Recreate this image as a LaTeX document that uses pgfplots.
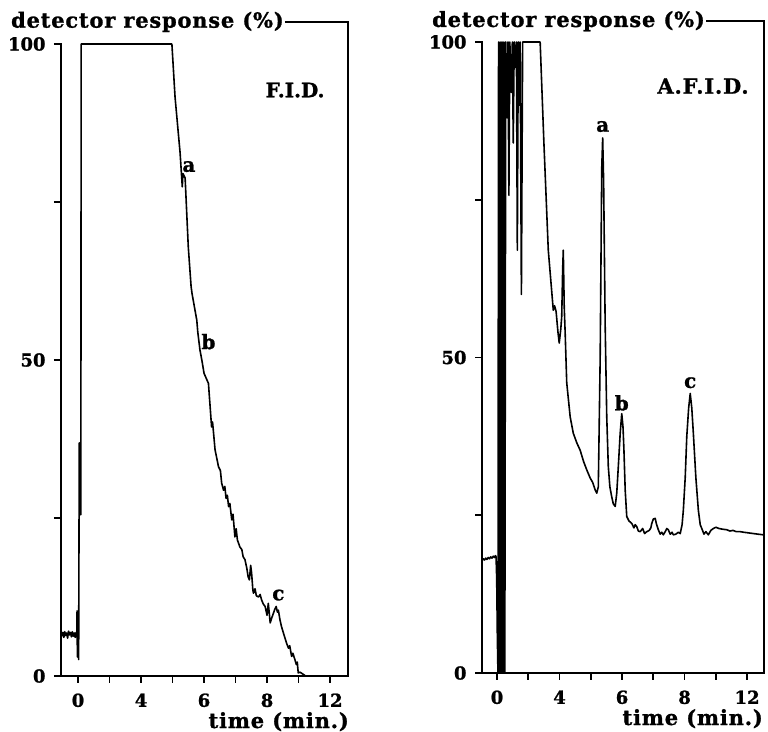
\documentclass[border=0pt]{standalone}
\usepackage{fontspec}
\setmainfont{DejaVu Serif}[BoldFeatures={FakeBold=1.2}]
\usepackage{pgfplots}
\pgfplotsset{compat=1.18}

% common look of both chromatogram panels
\pgfplotsset{
  chrom/.style={
    scale only axis,
    ymin=0, ymax=100,
    axis x line=bottom, axis y line=left,
    axis line style={draw=none},
    tick align=outside,
    major tick length=7bp,
    major tick style={black, line width=1.8bp},
    xtick={0,...,8},
    xticklabels={0,,4,,6,,8,,12},
    ytick={0,25,50,75,100},
    yticklabels={0,,50,,100},
    ticklabel style={font=\bfseries\fontsize{18}{18}\selectfont},
    xticklabel style={yshift=-7bp},
    yticklabel style={xshift=-5bp},
    /pgf/number format/assume math mode=true,
    clip=false,
  },
  trace/.style={black, line width=1.6bp, line join=round, no marks},
}
\tikzset{
  lbl/.style={font=\bfseries\fontsize{21}{21}\selectfont\addfontfeatures{LetterSpace=4}, inner sep=1bp},
  pk/.style={font=\bfseries\fontsize{20}{20}\selectfont, inner sep=0pt},
  axl/.style={line width=2.2bp, line cap=rect},
}

\begin{document}
\begin{tikzpicture}
\path[use as bounding box] (-61bp,-56bp) rectangle (707bp,676bp);

% ---------------- F.I.D. ----------------
\begin{axis}[chrom, at={(0bp,0bp)}, width=287bp, height=632bp,
  xmin=-0.54, xmax=8.57]
\draw[axl] (axis cs:-0.54,100) -- (axis cs:-0.54,0) -- (axis cs:8.57,0);
\addplot[trace] coordinates {
(-0.51,6.3) (-0.48,6.9) (-0.45,6.1) (-0.42,7.0) (-0.39,6.4) (-0.36,6.8)
(-0.33,6.0) (-0.30,7.1) (-0.27,6.5) (-0.24,6.9) (-0.21,6.2) (-0.18,7.0)
(-0.15,6.3) (-0.12,6.8) (-0.09,6.1) (-0.06,6.9) (-0.04,6.3) (-0.03,10.3)
(-0.02,3.0) (0.00,9.5) (0.02,2.6) (0.04,36.9) (0.05,27) (0.06,36)
(0.07,26) (0.08,35) (0.09,25.5) (0.10,100) (2.98,100)
(3.08,91.6) (3.24,82.8) (3.31,77.4) (3.33,79.5) (3.40,78.8) (3.50,67.9)
(3.59,61.6) (3.62,60.5) (3.77,56.3) (3.80,54.5) (3.87,51.6) (3.93,50.0)
(4.00,47.9) (4.14,46.3) (4.24,39.4) (4.27,40.2) (4.35,35.8) (4.46,33.1)
(4.52,32.5) (4.56,30.5) (4.62,29.4) (4.66,30.0) (4.70,28.1) (4.74,28.6)
(4.78,26.8) (4.82,27.3) (4.88,24.7) (4.92,25.6) (4.98,22.0) (5.02,23.3)
(5.06,21.5) (5.14,20.4) (5.20,20.0) (5.24,18.9) (5.30,18.4) (5.36,17.0)
(5.40,15.7) (5.44,15.2) (5.48,17.5) (5.51,16.3) (5.55,13.6) (5.57,13.1)
(5.62,13.8) (5.66,12.7) (5.73,12.5) (5.78,12.9) (5.83,12.0) (5.88,11.4)
(5.94,11.0) (6.00,9.6) (6.04,11.5) (6.07,10.0) (6.10,8.4) (6.15,9.2)
(6.20,9.9) (6.25,10.6) (6.29,11.0) (6.33,10.1) (6.36,10.4) (6.41,8.9)
(6.46,7.8) (6.52,6.8) (6.57,6.0) (6.62,5.2) (6.68,4.4) (6.72,4.8)
(6.78,3.1) (6.82,3.6) (6.89,2.5) (6.93,1.8) (6.96,2.2) (6.99,0.5)
(7.05,0.6) (7.20,0.1)
};
\node[lbl, anchor=west] (ylA) at (axis cs:-2.16,103.5) {detector response (\%)};
\draw[line width=1.5bp] (ylA.east) -- (axis cs:8.57,103.5) -- (axis cs:8.57,0);
\node[lbl, anchor=base east] at ([xshift=2bp,yshift=-52bp]axis cs:8.57,0) {time (min.)};
\node[lbl, font=\bfseries\fontsize{20}{20}\selectfont] at (axis cs:6.89,92.7) {F.I.D.};
\node[pk] at (axis cs:3.52,80.6) {a};
\node[pk] at (axis cs:4.14,52.9) {b};
\node[pk] at (axis cs:6.36,12.8) {c};
\end{axis}

% ---------------- A.F.I.D. ----------------
\begin{axis}[chrom, at={(421bp,3bp)}, width=282bp, height=631bp,
  xmin=-0.48, xmax=8.54]
\draw[axl] (axis cs:-0.48,100) -- (axis cs:-0.48,0) -- (axis cs:8.54,0);
\addplot[trace] coordinates {
(-0.48,17.8) (-0.44,18.1) (-0.40,17.9) (-0.36,18.2) (-0.32,18.0) (-0.28,18.3)
(-0.24,18.1) (-0.20,18.4) (-0.16,18.2) (-0.12,18.5) (-0.08,18.3) (-0.05,18.6)
(-0.03,18.4) (-0.01,15) (0.01,6) (0.03,0) (0.05,100) (0.08,0) (0.10,100)
(0.13,0) (0.16,100) (0.19,0) (0.22,100) (0.25,0) (0.28,100) (0.32,88)
(0.35,100) (0.38,75.7) (0.41,100) (0.46,92) (0.49,100) (0.52,84) (0.55,100)
(0.59,96) (0.62,100) (0.65,67) (0.68,100) (0.71,90) (0.74,100) (0.78,60)
(0.82,100) (1.38,100) (1.50,84) (1.64,67) (1.80,57.5) (1.84,58.2) (1.89,57.3)
(1.95,54) (1.99,52.3) (2.04,54.5) (2.07,56.5) (2.10,64) (2.12,67) (2.15,58)
(2.18,53.9) (2.23,46) (2.34,40.6) (2.44,38) (2.55,36.5) (2.66,35.3)
(2.77,33.5) (2.87,32.2) (2.98,30.9) (3.06,30.2) (3.14,29) (3.19,28.5)
(3.24,29.5) (3.30,50) (3.35,80) (3.38,84.8) (3.41,78) (3.46,55) (3.51,40.6)
(3.56,32.7) (3.61,29.5) (3.67,27.9) (3.72,26.8) (3.78,26.4) (3.83,28.5)
(3.88,32.7) (3.94,38) (3.99,41.1) (4.03,39) (4.06,35.3) (4.10,29) (4.15,24.8)
(4.22,24.1) (4.31,23.7) (4.38,23.0) (4.42,23.5) (4.47,23.2) (4.52,22.5)
(4.58,22.4) (4.66,22.9) (4.72,22.1) (4.79,22.4) (4.87,22.6) (4.92,23.0)
(4.95,23.7) (5.00,24.4) (5.06,24.5) (5.10,23.6) (5.16,22.7) (5.22,22.0)
(5.27,22.3) (5.32,21.9) (5.38,22.4) (5.43,22.9) (5.48,22.7) (5.54,22.0)
(5.60,22.3) (5.64,21.9) (5.72,22.0) (5.80,22.3) (5.86,22.1) (5.92,23.5)
(5.96,25.8) (6.02,31) (6.07,37.5) (6.13,42) (6.18,44.3) (6.23,42) (6.28,38)
(6.36,31) (6.44,25.8) (6.50,23.5) (6.55,22.9) (6.62,22.0) (6.68,22.4)
(6.76,21.9) (6.84,22.6) (6.92,22.9) (7.00,23.1) (7.10,22.9) (7.20,22.8)
(7.35,22.7) (7.45,22.5) (7.55,22.6) (7.65,22.4) (7.78,22.4) (7.90,22.3)
(8.05,22.2) (8.20,22.1) (8.35,22.0) (8.52,21.9)
};
\node[lbl, anchor=west] (ylB) at (axis cs:-2.11,103.3) {detector response (\%)};
\draw[line width=1.5bp] (ylB.east) -- (axis cs:8.54,103.3) -- (axis cs:8.54,0);
\node[lbl, anchor=base east] at ([yshift=-52bp]axis cs:8.54,0) {time (min.)};
\node[lbl] at (axis cs:6.59,93.0) {A.F.I.D.};
\node[pk] at (axis cs:3.38,86.6) {a};
\node[pk] at (axis cs:3.99,42.8) {b};
\node[pk] at (axis cs:6.18,46.0) {c};
\end{axis}
\end{tikzpicture}
\end{document}
